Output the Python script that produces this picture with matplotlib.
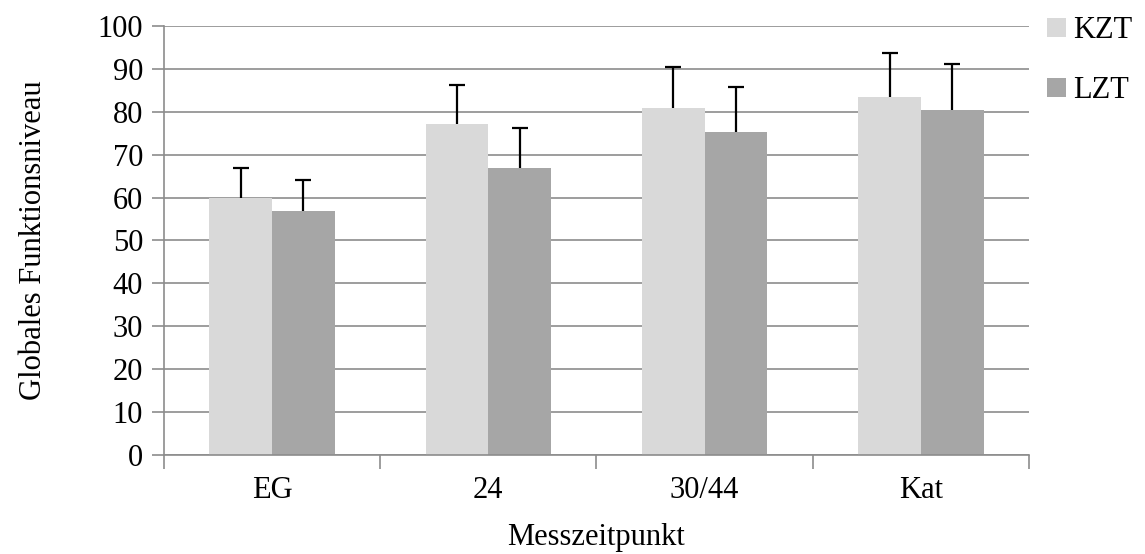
import matplotlib.pyplot as plt
import numpy as np

# Daten
zeitpunkte = ['EG', '24', '30/44', 'Kat']
kzt = [59.8, 77.1, 80.8, 83.4]
kzt_sd = [7.0, 9.2, 9.7, 10.3]
lzt = [56.9, 67.0, 75.4, 80.5]
lzt_sd = [7.2, 9.2, 10.4, 10.6]

plt.rcParams['font.family'] = 'Liberation Serif'
plt.rcParams['font.size'] = 22

fig = plt.figure(figsize=(11.45, 5.54), dpi=100)
ax = fig.add_axes([0.1432, 0.1787, 0.7555, 0.7744])

x = np.arange(len(zeitpunkte))
w = 0.29
grau = '#8c8c8c'

ax.bar(x - w/2, kzt, w, color='#d9d9d9', label='KZT', zorder=2)
ax.bar(x + w/2, lzt, w, color='#a6a6a6', label='LZT', zorder=2)
for pos, werte, sd in [(x - w/2, kzt, kzt_sd), (x + w/2, lzt, lzt_sd)]:
    eb = ax.errorbar(pos, werte, yerr=[np.zeros(4), sd], fmt='none', ecolor='black',
                     elinewidth=1.6, capsize=6, capthick=1.6, zorder=3)
    eb[1][0].set_visible(False)  # untere Kappe weg

ax.set_xlim(-0.5, 3.5)
ax.set_ylim(0, 100)
ax.set_yticks(range(0, 101, 10))
ax.yaxis.grid(True, color=grau, linewidth=1.2, zorder=0)
ax.set_axisbelow(True)

# Kategoriegrenzen als Ticks, Beschriftungen in der Mitte
ax.set_xticks(np.arange(-0.5, 4, 1))
ax.set_xticklabels([])
ax.set_xticks(x, minor=True)
ax.set_xticklabels(zeitpunkte, minor=True)
ax.tick_params(axis='x', which='major', length=10, color=grau, width=1.2, direction='out')
ax.tick_params(axis='x', which='minor', length=0, pad=15)
ax.tick_params(axis='y', length=9, color=grau, width=1.2, pad=6)

for s in ['top', 'right']:
    ax.spines[s].set_visible(False)
for s in ['left', 'bottom']:
    ax.spines[s].set_color(grau)
    ax.spines[s].set_linewidth(1.2)

ax.set_xlabel('Messzeitpunkt', labelpad=13)
ax.set_ylabel('Globales Funktionsniveau', labelpad=36)

ax.legend(loc='upper left', bbox_to_anchor=(1.0, 1.065), frameon=False,
          handlelength=0.6, handleheight=0.6, handletextpad=0.25, labelspacing=1.0,
          borderaxespad=0.2)

fig.savefig('out.png', dpi=100)
